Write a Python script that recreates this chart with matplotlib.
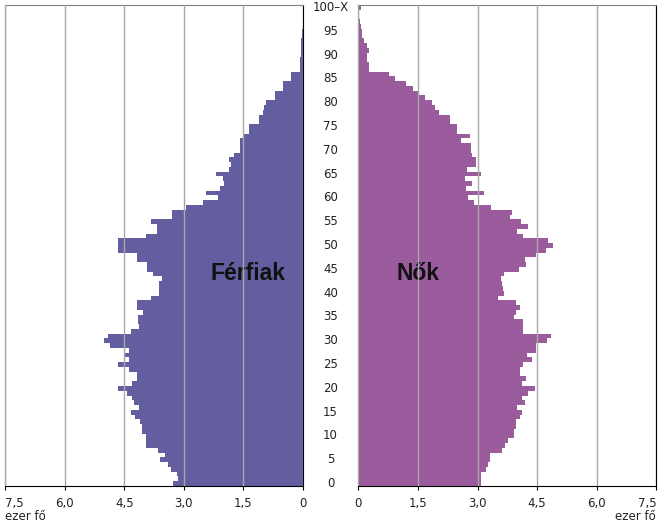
import matplotlib.pyplot as plt
import numpy as np

# Age 0 .. 100 (100 = "100-X"), values in thousand persons
ages = np.arange(0, 101)

men = [3.27, 3.14, 3.16, 3.31, 3.39, 3.59, 3.47, 3.64, 3.95, 3.95,
       3.95, 4.04, 4.04, 4.10, 4.24, 4.32, 4.14, 4.25, 4.31, 4.44,
       4.66, 4.30, 4.17, 4.17, 4.39, 4.66, 4.39, 4.48, 4.39, 4.85,
       5.01, 4.90, 4.32, 4.13, 4.15, 4.15, 4.03, 4.17, 4.17, 3.82,
       3.62, 3.62, 3.62, 3.56, 3.77, 3.92, 3.92, 4.17, 4.17, 4.66,
       4.66, 4.66, 3.96, 3.68, 3.68, 3.82, 3.29, 3.29, 2.95, 2.51,
       2.15, 2.43, 2.10, 2.00, 2.02, 2.19, 1.85, 1.80, 1.85, 1.73,
       1.58, 1.58, 1.58, 1.50, 1.35, 1.35, 1.10, 1.10, 1.00, 0.98,
       0.93, 0.71, 0.71, 0.50, 0.50, 0.31, 0.31, 0.08, 0.08, 0.08,
       0.06, 0.06, 0.06, 0.05, 0.03, 0.02, 0.01, 0.01, 0.0, 0.0,
       0.0]

women = [3.09, 3.09, 3.09, 3.22, 3.27, 3.31, 3.31, 3.62, 3.69, 3.77,
         3.93, 3.93, 3.96, 3.98, 4.06, 4.13, 4.00, 4.19, 4.11, 4.28,
         4.44, 4.13, 4.21, 4.06, 4.06, 4.15, 4.38, 4.24, 4.47, 4.47,
         4.74, 4.86, 4.15, 4.15, 4.15, 3.93, 3.96, 4.07, 3.96, 3.51,
         3.66, 3.64, 3.62, 3.60, 3.66, 4.04, 4.21, 4.20, 4.47, 4.73,
         4.89, 4.78, 4.15, 4.00, 4.28, 4.09, 3.83, 3.88, 3.35, 2.92,
         2.76, 3.17, 2.72, 2.86, 2.68, 3.09, 2.74, 2.97, 2.97, 2.85,
         2.84, 2.84, 2.59, 2.81, 2.49, 2.49, 2.30, 2.30, 2.04, 1.94,
         1.85, 1.67, 1.54, 1.37, 1.20, 0.93, 0.78, 0.28, 0.28, 0.23,
         0.23, 0.28, 0.23, 0.15, 0.10, 0.10, 0.08, 0.05, 0.03, 0.02,
         0.06]

ticks = [0, 1.5, 3.0, 4.5, 6.0, 7.5]
tick_labels = ['0', '1,5', '3,0', '4,5', '6,0', '7,5']
age_labels = [str(a) for a in range(0, 100, 5)] + ['100–X']
age_label_pos = list(range(0, 100, 5)) + [100]

men_color = '#625e9f'
women_color = '#9b5c9e'
grid_color = '#a8a8a8'

fig = plt.figure(figsize=(6.62, 5.26), dpi=100)
ax_m = fig.add_axes([5 / 662, 40 / 526, 298 / 662, 481 / 526])
ax_w = fig.add_axes([358.3 / 662, 40 / 526, 298 / 662, 481 / 526])

for ax, vals, col in [(ax_m, men, men_color), (ax_w, women, women_color)]:
    ax.barh(ages, vals, height=1.0, color=col, edgecolor='none', zorder=1)
    ax.set_xlim(0, 7.5)
    ax.set_ylim(-0.5, 100.5)
    ax.set_yticks([])
    ax.set_xticks(ticks)
    ax.set_xticklabels(tick_labels, fontsize=8.5, color='#222222')
    ax.tick_params(axis='x', length=3, pad=5)
    ax.set_axisbelow(False)
    ax.grid(axis='x', color=grid_color, linewidth=1, zorder=3)
    for side in ['left', 'right', 'bottom']:
        ax.spines[side].set_color('black')
    ax.spines['top'].set_color('#808080')

ax_m.invert_xaxis()

# edge tick labels pushed inside
ax_m.get_xticklabels()[-1].set_ha('left')
ax_w.get_xticklabels()[-1].set_ha('right')

# age labels in the middle
for pos, lab in zip(age_label_pos, age_labels):
    ax_w.text(-0.7, pos, lab, ha='center', va='center', fontsize=8.5,
              color='#222222', clip_on=False)

ax_m.text(1.39, 44.2, 'Férfiak', fontsize=16.5, fontweight='bold',
          family='Liberation Sans', color='#111111', ha='center', va='center', zorder=2)
ax_w.text(1.5, 44.2, 'Nők', fontsize=16.5, fontweight='bold',
          family='Liberation Sans', color='#111111', ha='center', va='center', zorder=2)

fig.text(5 / 662, 1 - 517 / 526, 'ezer fő', fontsize=8.5, color='#222222',
         ha='left', va='center')
fig.text(656 / 662, 1 - 517 / 526, 'ezer fő', fontsize=8.5, color='#222222',
         ha='right', va='center')

fig.savefig('out.png', dpi=100)
